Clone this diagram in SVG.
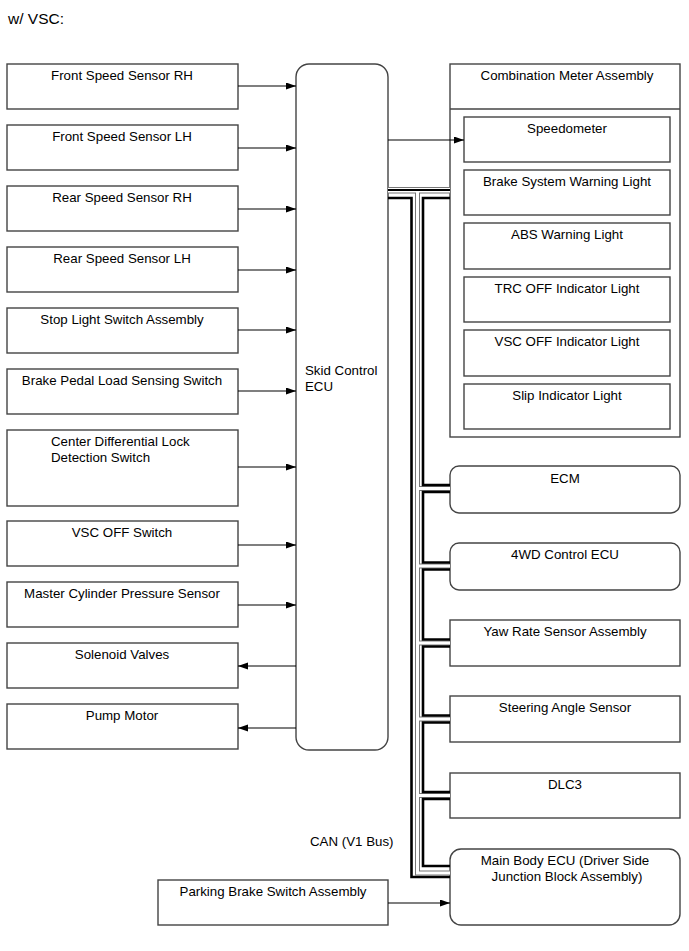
<svg xmlns="http://www.w3.org/2000/svg" width="689" height="951" viewBox="0 0 689 951">
<defs>
<marker id="ah" markerUnits="userSpaceOnUse" markerWidth="11" markerHeight="8" refX="10" refY="3.5" orient="auto">
<path d="M0,0 L10,3.5 L0,7 z" fill="#000"/>
</marker>
<style>
.b{fill:#fff;stroke:#444;stroke-width:1.4}
.t{font-family:"Liberation Sans",Arial,sans-serif;font-size:13.3px;fill:#000;text-anchor:middle}
.ts{font-family:"Liberation Sans",Arial,sans-serif;font-size:13.3px;fill:#000}
.a{fill:none;stroke:#000;stroke-width:1.2;marker-end:url(#ah)}
.hg{fill:none;stroke:#777;stroke-width:5}
.hw{fill:none;stroke:#fff;stroke-width:3}
.bk{fill:none;stroke:#000;stroke-width:2.6}
</style>
</defs>
<rect width="689" height="951" fill="#fff"/>
<text class="ts" x="8" y="24" style="font-size:15.5px">w/ VSC:</text>

<g id="ecu"><rect class="b" x="296" y="64" width="92" height="686" rx="13"/><text class="ts" x="305" y="375">Skid Control</text><text class="ts" x="305" y="391">ECU</text></g>

<g id="fsrh"><rect class="b" x="7" y="64" width="231" height="45"/><text class="t" x="122" y="80">Front Speed Sensor RH</text></g>
<g id="fslh"><rect class="b" x="7" y="125" width="231" height="45"/><text class="t" x="122" y="141">Front Speed Sensor LH</text></g>
<g id="rsrh"><rect class="b" x="7" y="186" width="231" height="45"/><text class="t" x="122" y="202">Rear Speed Sensor RH</text></g>
<g id="rslh"><rect class="b" x="7" y="247" width="231" height="45"/><text class="t" x="122" y="263">Rear Speed Sensor LH</text></g>
<g id="stop"><rect class="b" x="7" y="308" width="231" height="45"/><text class="t" x="122" y="324">Stop Light Switch Assembly</text></g>
<g id="bpl"><rect class="b" x="7" y="369" width="231" height="45"/><text class="t" x="122" y="385">Brake Pedal Load Sensing Switch</text></g>
<g id="cdl"><rect class="b" x="7" y="430" width="231" height="76"/><text class="ts" x="51" y="446">Center Differential Lock</text><text class="ts" x="51" y="462">Detection Switch</text></g>
<g id="vscsw"><rect class="b" x="7" y="521" width="231" height="45"/><text class="t" x="122" y="537">VSC OFF Switch</text></g>
<g id="mcp"><rect class="b" x="7" y="582" width="231" height="45"/><text class="t" x="122" y="598">Master Cylinder Pressure Sensor</text></g>
<g id="sol"><rect class="b" x="7" y="643" width="231" height="45"/><text class="t" x="122" y="659">Solenoid Valves</text></g>
<g id="pump"><rect class="b" x="7" y="704" width="231" height="45"/><text class="t" x="122" y="720">Pump Motor</text></g>

<g id="combo"><rect class="b" x="450" y="64" width="230" height="373"/><line x1="450" y1="109" x2="680" y2="109" stroke="#444" stroke-width="1.4"/><text class="t" x="567" y="80">Combination Meter Assembly</text></g>
<g id="speedo"><rect class="b" x="464" y="117" width="206" height="45"/><text class="t" x="567" y="133">Speedometer</text></g>
<g id="brakewl"><rect class="b" x="464" y="170" width="206" height="45"/><text class="t" x="567" y="186">Brake System Warning Light</text></g>
<g id="abswl"><rect class="b" x="464" y="223" width="206" height="46"/><text class="t" x="567" y="239">ABS Warning Light</text></g>
<g id="trc"><rect class="b" x="464" y="277" width="206" height="45"/><text class="t" x="567" y="293">TRC OFF Indicator Light</text></g>
<g id="vscl"><rect class="b" x="464" y="330" width="206" height="46"/><text class="t" x="567" y="346">VSC OFF Indicator Light</text></g>
<g id="slip"><rect class="b" x="464" y="384" width="206" height="45"/><text class="t" x="567" y="400">Slip Indicator Light</text></g>

<g id="ecm"><rect class="b" x="450" y="466" width="230" height="47" rx="9"/><text class="t" x="565" y="483">ECM</text></g>
<g id="fwd"><rect class="b" x="450" y="543" width="230" height="47" rx="9"/><text class="t" x="565" y="559">4WD Control ECU</text></g>
<g id="yaw"><rect class="b" x="450" y="620" width="230" height="46"/><text class="t" x="565" y="636">Yaw Rate Sensor Assembly</text></g>
<g id="steer"><rect class="b" x="450" y="696" width="230" height="46"/><text class="t" x="565" y="712">Steering Angle Sensor</text></g>
<g id="dlc3"><rect class="b" x="450" y="773" width="230" height="45"/><text class="t" x="565" y="789">DLC3</text></g>
<g id="mainbody"><rect class="b" x="450" y="849" width="230" height="76" rx="11"/><text class="t" x="565" y="865">Main Body ECU (Driver Side</text><text class="t" x="567" y="881">Junction Block Assembly)</text></g>
<g id="pbsw"><rect class="b" x="158" y="880" width="230" height="45"/><text class="t" x="273" y="896">Parking Brake Switch Assembly</text></g>

<text class="ts" x="310" y="846">CAN (V1 Bus)</text>

<g id="connectors">
<path class="a" d="M238,86 H296"/>
<path class="a" d="M238,148 H296"/>
<path class="a" d="M238,209 H296"/>
<path class="a" d="M238,270 H296"/>
<path class="a" d="M238,330 H296"/>
<path class="a" d="M238,391 H296"/>
<path class="a" d="M238,467 H296"/>
<path class="a" d="M238,545 H296"/>
<path class="a" d="M238,605 H296"/>
<path class="a" d="M296,666 H238"/>
<path class="a" d="M296,728 H238"/>
<path class="a" d="M388,140 H464"/>
<path class="a" d="M388,903 H450"/>
<g id="canbus">
<path stroke="#777" stroke-width="6.5" fill="none" d="M388,190.3 H450"/>
<path class="hg" d="M417.5,190 V873 H450 M417.5,488.5 H450 M417.5,566 H450 M417.5,643 H450 M417.5,719 H450 M417.5,795.5 H450"/>
<path stroke="#fff" stroke-width="4.5" fill="none" d="M388,190.3 H450"/>
<path class="hw" d="M417.5,190 V873 H450 M417.5,488.5 H450 M417.5,566 H450 M417.5,643 H450 M417.5,719 H450 M417.5,795.5 H450"/>
<path stroke="#000" stroke-width="2.2" fill="none" d="M388,190 H450"/>
<path class="bk" d="M388,198 H411.5 V877 H450"/>
<path class="bk" d="M450,198 H423 V485 H450 M450,492 H423 V562.5 H450 M450,569.5 H423 V639.5 H450 M450,646.5 H423 V715.5 H450 M450,722.5 H423 V792 H450 M450,799 H423 V866 H450"/>
</g>
</g>
</svg>
